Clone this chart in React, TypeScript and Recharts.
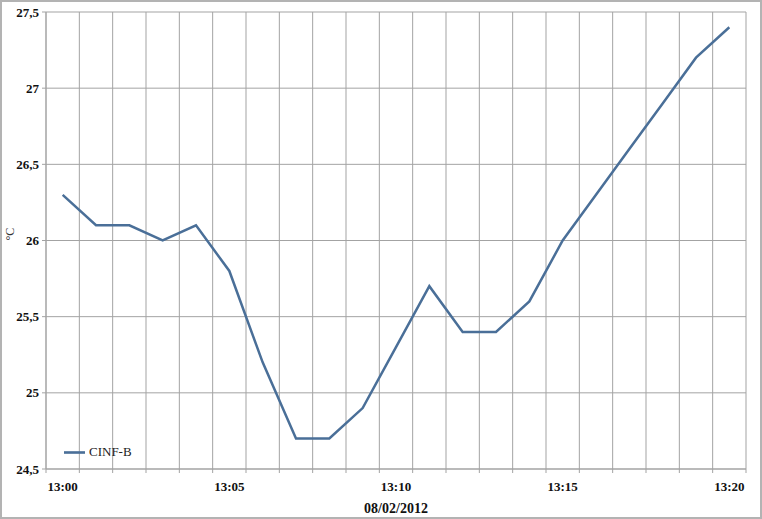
import React from 'react';
import { LineChart, Line, XAxis, YAxis, CartesianGrid, Legend } from 'recharts';

// minute labels, one per reading
const times = [
  '13:00', '13:01', '13:02', '13:03', '13:04', '13:05', '13:06', '13:07', '13:08', '13:09', '13:10',
  '13:11', '13:12', '13:13', '13:14', '13:15', '13:16', '13:17', '13:18', '13:19', '13:20',
];
const cinfB = [
  26.3, 26.1, 26.1, 26.0, 26.1, 25.8, 25.2, 24.7, 24.7, 24.9, 25.3,
  25.7, 25.4, 25.4, 25.6, 26.0, 26.3, 26.6, 26.9, 27.2, 27.4,
];
const labelTimes = ['13:00', '13:05', '13:10', '13:15', '13:20'];
const yTicks = [24.5, 25, 25.5, 26, 26.5, 27, 27.5];

// x sits in the middle of each minute band, grid lines on the band edges
const data = times.map((t, i) => ({ x: i + 0.5, time: t, value: cinfB[i] }));
const bandEdges = times.map((_, i) => i).concat(times.length);
const labelPos = labelTimes.map((t) => times.indexOf(t) + 0.5);

const lineColor = '#4a6f98';
const gridColor = '#a3a3a3';
const font = 'Liberation Serif';

const App: React.FC = () => {
  return (
    <div
      style={{
        position: 'relative',
        width: 762,
        height: 519,
        boxSizing: 'border-box',
        border: '2px solid #b3b3b3',
        background: '#fff',
        fontFamily: font,
      }}
    >
      <style>{'body{margin:0}'}</style>
      <div style={{ position: 'absolute', left: -2, top: -2 }}>
        <LineChart width={762} height={519} data={data} margin={{ top: 12, right: 16, bottom: 0, left: 0 }}>
          <CartesianGrid stroke={gridColor} strokeWidth={1} />
          <XAxis
            dataKey="x"
            type="number"
            domain={[0, times.length]}
            ticks={bandEdges}
            tickFormatter={() => ''}
            height={5}
            tickSize={4}
            axisLine={{ stroke: gridColor }}
            tickLine={{ stroke: gridColor }}
          />
          <XAxis
            xAxisId="labels"
            dataKey="x"
            type="number"
            domain={[0, times.length]}
            ticks={labelPos}
            tickFormatter={(v: number) => times[Math.round(v - 0.5)]}
            axisLine={false}
            tickLine={false}
            tickSize={0}
            tickMargin={8}
            height={45}
            tick={{ fill: '#111', fontSize: 13, fontWeight: 'bold', fontFamily: font }}
            label={{
              value: '08/02/2012',
              position: 'insideBottom',
              offset: 6,
              fill: '#111',
              fontSize: 14,
              fontWeight: 'bold',
              fontFamily: font,
            }}
          />
          <YAxis
            domain={[24.5, 27.5]}
            ticks={yTicks}
            width={46}
            tickSize={4}
            tickMargin={3}
            axisLine={{ stroke: gridColor }}
            tickLine={{ stroke: gridColor }}
            tickFormatter={(v: number) => String(v).replace('.', ',')}
            tick={{ fill: '#111', fontSize: 13, fontWeight: 'bold', fontFamily: font }}
            label={{
              value: '°C',
              angle: -90,
              position: 'insideLeft',
              offset: 10,
              fill: '#333',
              fontSize: 12,
              fontFamily: font,
            }}
          />
          <Legend
            layout="horizontal"
            align="center"
            verticalAlign="middle"
            iconType="plainline"
            iconSize={21}
            wrapperStyle={{ left: 64, top: 442, width: 'auto' }}
            formatter={(v: string) => <span style={{ color: '#222', fontSize: 13, fontFamily: font }}>{v}</span>}
          />
          <Line
            type="linear"
            dataKey="value"
            name="CINF-B"
            stroke={lineColor}
            strokeWidth={2.5}
            dot={false}
            isAnimationActive={false}
          />
        </LineChart>
      </div>
    </div>
  );
};

export default App;
